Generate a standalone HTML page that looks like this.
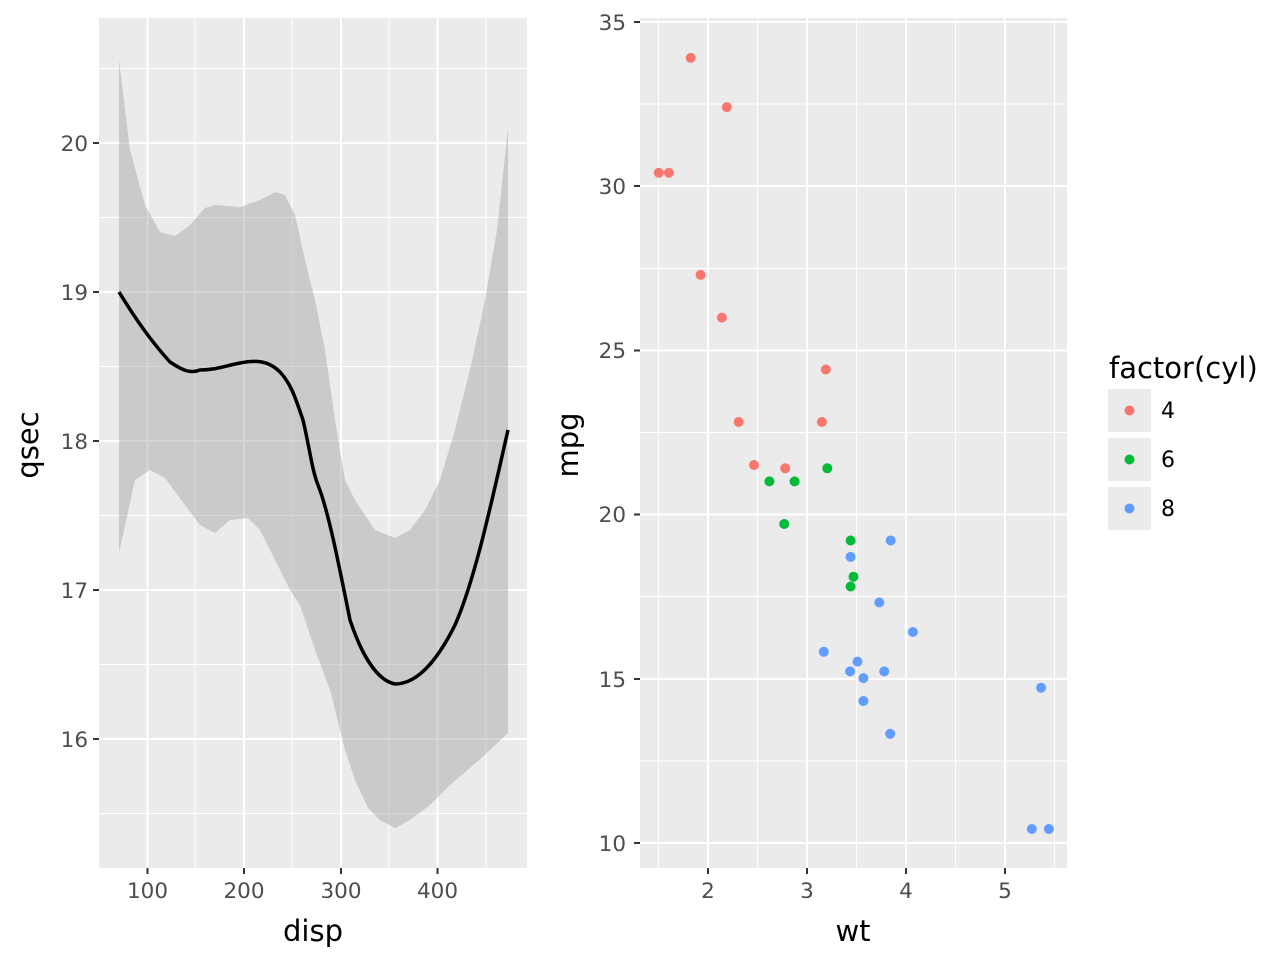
<!DOCTYPE html>
<html><head><meta charset="utf-8"><style>body{margin:0;background:#fff}svg{display:block}</style></head><body>
<svg width="1280" height="960" xmlns="http://www.w3.org/2000/svg" font-family="DejaVu Sans, sans-serif">
<rect width="1280" height="960" fill="#fff"/>
<rect x="99" y="18" width="428" height="850" fill="#ebebeb"/>
<g stroke="#fff" stroke-width="1">
<line x1="195" y1="18" x2="195" y2="868"/><line x1="292" y1="18" x2="292" y2="868"/><line x1="389" y1="18" x2="389" y2="868"/><line x1="486" y1="18" x2="486" y2="868"/>
<line x1="99" y1="68.5" x2="527" y2="68.5"/><line x1="99" y1="217.5" x2="527" y2="217.5"/><line x1="99" y1="366.5" x2="527" y2="366.5"/><line x1="99" y1="515.5" x2="527" y2="515.5"/><line x1="99" y1="664.5" x2="527" y2="664.5"/><line x1="99" y1="813.5" x2="527" y2="813.5"/>
</g>
<g stroke="#fff" stroke-width="2">
<line x1="147.5" y1="18" x2="147.5" y2="868"/><line x1="244" y1="18" x2="244" y2="868"/><line x1="341" y1="18" x2="341" y2="868"/><line x1="437.5" y1="18" x2="437.5" y2="868"/>
<line x1="99" y1="143" x2="527" y2="143"/><line x1="99" y1="292" x2="527" y2="292"/><line x1="99" y1="441" x2="527" y2="441"/><line x1="99" y1="590" x2="527" y2="590"/><line x1="99" y1="739" x2="527" y2="739"/>
</g>
<path fill="#999" fill-opacity="0.4" d="M119,60 L130,150 L145,205 L160,232 L175,236 L190,225 L205,208 L215,205 L240,207 L260,200 L275,192 L285,195 L295,215 L305,260 L315,300 L325,350 L335,420 L345,480 L355,500 L375,530 L395,538 L410,530 L425,510 L440,480 L455,430 L470,370 L485,300 L497,230 L508,128 L508,733 L490,750 L470,768 L450,785 L430,805 L410,820 L395,828 L380,820 L368,808 L355,780 L345,750 L330,690 L315,650 L300,605 L290,590 L275,560 L260,530 L248,518 L230,520 L215,533 L200,525 L185,505 L165,478 L150,470 L135,480 L119,553 Z"/>
<path fill="none" stroke="#000" stroke-width="3.5" d="M119,292 C135,318 150,340 170,362 C182,370 190,374 200,370 C215,370 225,366 240,363 C255,360 268,360 280,372 C292,385 296,400 303,420 C310,450 312,470 318,485 C328,510 338,560 350,620 C360,650 375,680 395,684 C420,684 440,655 455,625 C475,580 492,500 508,430"/>
<g font-size="21.5" fill="#4d4d4d">
<text x="88" y="151" text-anchor="end">20</text><text x="88" y="300" text-anchor="end">19</text><text x="88" y="449" text-anchor="end">18</text><text x="88" y="598" text-anchor="end">17</text><text x="88" y="747" text-anchor="end">16</text>
<text x="147.5" y="898" text-anchor="middle">100</text><text x="244" y="898" text-anchor="middle">200</text><text x="341" y="898" text-anchor="middle">300</text><text x="437.5" y="898" text-anchor="middle">400</text>
</g>
<g stroke="#333" stroke-width="2"><line x1="93" y1="143" x2="99" y2="143"/><line x1="93" y1="292" x2="99" y2="292"/><line x1="93" y1="441" x2="99" y2="441"/><line x1="93" y1="590" x2="99" y2="590"/><line x1="93" y1="739" x2="99" y2="739"/>
<line x1="147.5" y1="868" x2="147.5" y2="874"/><line x1="244" y1="868" x2="244" y2="874"/><line x1="341" y1="868" x2="341" y2="874"/><line x1="437.5" y1="868" x2="437.5" y2="874"/></g>
<text x="313" y="941" font-size="29" text-anchor="middle">disp</text>
<text transform="translate(38,445) rotate(-90)" font-size="29" text-anchor="middle">qsec</text>
<rect x="640" y="18" width="427" height="850" fill="#ebebeb"/>
<g stroke="#fff" stroke-width="1">
<line x1="658.5" y1="18" x2="658.5" y2="868"/><line x1="757.5" y1="18" x2="757.5" y2="868"/><line x1="856.5" y1="18" x2="856.5" y2="868"/><line x1="955.5" y1="18" x2="955.5" y2="868"/><line x1="1054.5" y1="18" x2="1054.5" y2="868"/>
<line x1="640" y1="104" x2="1067" y2="104"/><line x1="640" y1="268.5" x2="1067" y2="268.5"/><line x1="640" y1="432.5" x2="1067" y2="432.5"/><line x1="640" y1="596.5" x2="1067" y2="596.5"/><line x1="640" y1="761" x2="1067" y2="761"/>
</g>
<g stroke="#fff" stroke-width="2">
<line x1="708" y1="18" x2="708" y2="868"/><line x1="807" y1="18" x2="807" y2="868"/><line x1="906" y1="18" x2="906" y2="868"/><line x1="1005" y1="18" x2="1005" y2="868"/>
<line x1="640" y1="22" x2="1067" y2="22"/><line x1="640" y1="186" x2="1067" y2="186"/><line x1="640" y1="350.5" x2="1067" y2="350.5"/><line x1="640" y1="514.5" x2="1067" y2="514.5"/><line x1="640" y1="679" x2="1067" y2="679"/><line x1="640" y1="843" x2="1067" y2="843"/>
</g>
<g fill="#f8766d">
<circle cx="738.7" cy="422" r="5"/><circle cx="825.8" cy="369.5" r="5"/><circle cx="821.9" cy="422" r="5"/><circle cx="726.8" cy="107.1" r="5"/><circle cx="668.9" cy="172.8" r="5"/><circle cx="690.7" cy="57.9" r="5"/><circle cx="754" cy="465" r="5"/><circle cx="700.6" cy="274.9" r="5"/><circle cx="721.9" cy="317.6" r="5"/><circle cx="658.8" cy="172.8" r="5"/><circle cx="785.2" cy="468.3" r="5"/>
</g>
<g fill="#00ba38">
<circle cx="769.4" cy="481.4" r="5"/><circle cx="794.6" cy="481.4" r="5"/><circle cx="827.3" cy="468.3" r="5"/><circle cx="853.5" cy="576.7" r="5"/><circle cx="850.6" cy="540.5" r="5"/><circle cx="850.6" cy="586.5" r="5"/><circle cx="784.2" cy="524" r="5"/>
</g>
<g fill="#619cff">
<circle cx="850.6" cy="556.9" r="5"/><circle cx="863.4" cy="701" r="5"/><circle cx="912.9" cy="632" r="5"/><circle cx="879.3" cy="602.5" r="5"/><circle cx="884.2" cy="671.4" r="5"/><circle cx="1031.8" cy="829" r="5"/><circle cx="1048.9" cy="829" r="5"/><circle cx="1041.1" cy="687.7" r="5"/><circle cx="857.5" cy="661.6" r="5"/><circle cx="850.1" cy="671.4" r="5"/><circle cx="890.2" cy="733.8" r="5"/><circle cx="890.7" cy="540.5" r="5"/><circle cx="823.8" cy="651.8" r="5"/><circle cx="863.4" cy="678.1" r="5"/>
</g>
<g font-size="21.5" fill="#4d4d4d">
<text x="626" y="30" text-anchor="end">35</text><text x="626" y="194" text-anchor="end">30</text><text x="626" y="358" text-anchor="end">25</text><text x="626" y="522" text-anchor="end">20</text><text x="626" y="687" text-anchor="end">15</text><text x="626" y="851" text-anchor="end">10</text>
<text x="708" y="898" text-anchor="middle">2</text><text x="807" y="898" text-anchor="middle">3</text><text x="906" y="898" text-anchor="middle">4</text><text x="1005" y="898" text-anchor="middle">5</text>
</g>
<g stroke="#333" stroke-width="2"><line x1="634" y1="22" x2="640" y2="22"/><line x1="634" y1="186" x2="640" y2="186"/><line x1="634" y1="350.5" x2="640" y2="350.5"/><line x1="634" y1="514.5" x2="640" y2="514.5"/><line x1="634" y1="679" x2="640" y2="679"/><line x1="634" y1="843" x2="640" y2="843"/>
<line x1="708" y1="868" x2="708" y2="874"/><line x1="807" y1="868" x2="807" y2="874"/><line x1="906" y1="868" x2="906" y2="874"/><line x1="1005" y1="868" x2="1005" y2="874"/></g>
<text x="853" y="941" font-size="29" text-anchor="middle">wt</text>
<text transform="translate(578,445) rotate(-90)" font-size="29" text-anchor="middle">mpg</text>
<text x="1109" y="378" font-size="29">factor(cyl)</text>
<rect x="1108" y="389" width="43" height="43" fill="#ebebeb"/><rect x="1108" y="438" width="43" height="43" fill="#ebebeb"/><rect x="1108" y="487" width="43" height="43" fill="#ebebeb"/>
<circle cx="1129.5" cy="410.5" r="5" fill="#f8766d"/><circle cx="1129.5" cy="459.5" r="5" fill="#00ba38"/><circle cx="1129.5" cy="508.5" r="5" fill="#619cff"/>
<g font-size="22"><text x="1161" y="418">4</text><text x="1161" y="467">6</text><text x="1161" y="516">8</text></g>
</svg>
</body></html>
